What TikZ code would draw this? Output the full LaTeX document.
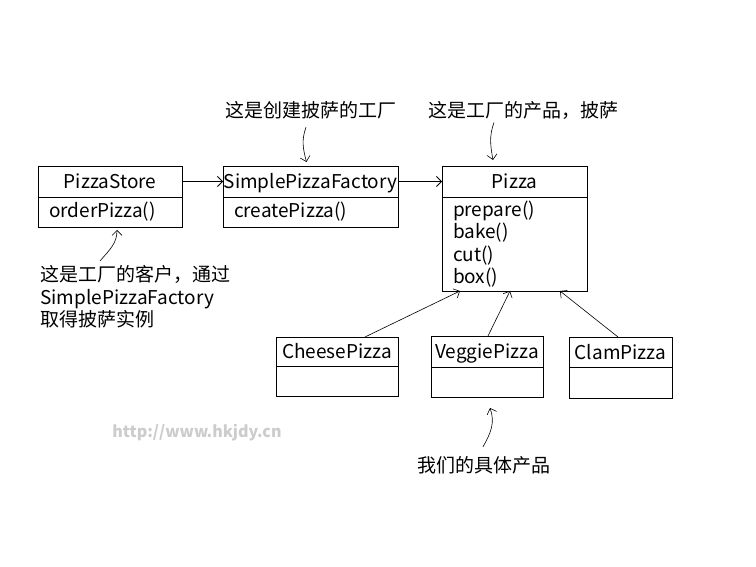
\documentclass[tikz,border=0pt]{standalone}
\usepackage{fontspec}
\setmainfont{Noto Sans CJK SC}
\usetikzlibrary{positioning,arrows.meta}
\begin{document}
\begin{tikzpicture}[x=1pt,y=-1pt,line width=0.8pt,font=\fontsize{19}{22.5}\selectfont,
  >={Straight Barb[length=5pt,width=10pt]},
  head/.style={draw,rectangle,outer sep=0pt,inner sep=0pt,text height=16pt,text depth=2pt},
  body/.style={draw,rectangle,outer sep=0pt,inner xsep=11pt,inner ysep=0pt,align=left},
  note/.style={align=left,inner sep=0pt},
  thinline/.style={line width=0.6pt}]

    \useasboundingbox (0,0) rectangle (756,567);

    %class boxes
    \node (PS) at (110,181.5)[head,minimum width=144pt,minimum height=31pt]{PizzaStore};
    \node (PSb) [body,below=0pt of PS,text width=122pt,minimum height=30pt]{orderPizza()};
    \node (SPF) at (310.5,181.5)[head,minimum width=175pt,minimum height=31pt]{SimplePizzaFactory};
    \node (SPFb) [body,below=0pt of SPF,text width=153pt,minimum height=30pt]{createPizza()};
    \node (PZ) at (514.5,181.5)[head,minimum width=145pt,minimum height=31pt]{Pizza};
    \node (PZb) [body,below=0pt of PZ,text width=123pt,minimum height=94pt]{prepare()\\bake()\\cut()\\box()};

    %concrete pizzas
    \node (CP) at (337,351.5)[head,minimum width=122pt,minimum height=29pt]{CheesePizza};
    \node (CPb) [body,below=0pt of CP,text width=100pt,minimum height=30pt]{};
    \node (VP) at (487,351.5)[head,minimum width=112pt,minimum height=31pt]{VeggiePizza};
    \node (VPb) [body,below=0pt of VP,text width=90pt,minimum height=30pt]{};
    \node (CLP) at (620.5,352)[head,minimum width=103pt,minimum height=30pt]{ClamPizza};
    \node (CLPb) [body,below=0pt of CLP,text width=81pt,minimum height=31pt]{};

    %associations
    \draw [->] (PS.east) to (SPF.west);
    \draw [->] (SPF.east) to (PZ.west);

    %subclasses
    \draw [->,thinline] ([xshift=28pt]CP.north) to ([xshift=-54.5pt]PZb.south);
    \draw [->,thinline] ([xshift=1pt]VP.north) to ([xshift=-4.5pt]PZb.south);
    \draw [->,thinline] ([xshift=-2.5pt]CLP.north) to ([xshift=45.5pt]PZb.south);

    %notes
    \node (N1) at (311,110)[note]{这是创建披萨的工厂};
    \node (N2) at (523,110)[note]{这是工厂的产品，披萨};
    \node (N3) at (40,265)[note,anchor=north west]{这是工厂的客户，通过\\SimplePizzaFactory\\取得披萨实例};
    \node (N4) at (484,465)[note]{我们的具体产品};
    \node (WM) at (197,433)[note,text=gray!40,font=\fontsize{16}{18}\bfseries]{http://www.hkjdy.cn};

    %note arrows
    \draw [->,thinline] ([xshift=-5pt,yshift=-8pt]N1.south) to [out=250,in=105] ([xshift=-4pt,yshift=4pt]SPF.north);
    \draw [->,thinline] ([xshift=-29pt,yshift=-3pt]N2.south) to [out=250,in=100] ([xshift=-21.5pt,yshift=6pt]PZ.north);
    \draw [->,thinline] ([xshift=60pt,yshift=4pt]N3.north west) to [out=50,in=270] ([xshift=7pt,yshift=-3pt]PSb.south);
    \draw [->,thinline] ([xshift=-1pt,yshift=9pt]N4.north) to [out=60,in=290] ([xshift=3pt,yshift=-11pt]VPb.south);
\end{tikzpicture}
\end{document}
